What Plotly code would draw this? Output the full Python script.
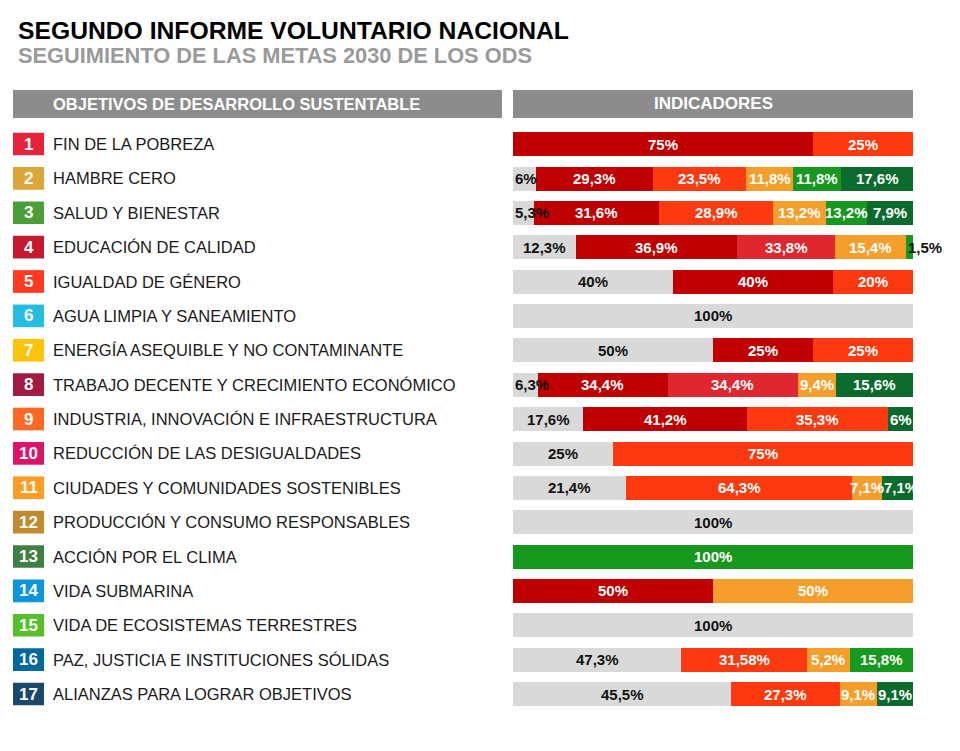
import plotly.graph_objects as go

# ---------------- data ----------------
goal_numbers = list(range(1, 18))
goal_names = [
    "FIN DE LA POBREZA",
    "HAMBRE CERO",
    "SALUD Y BIENESTAR",
    "EDUCACIÓN DE CALIDAD",
    "IGUALDAD DE GÉNERO",
    "AGUA LIMPIA Y SANEAMIENTO",
    "ENERGÍA ASEQUIBLE Y NO CONTAMINANTE",
    "TRABAJO DECENTE Y CRECIMIENTO ECONÓMICO",
    "INDUSTRIA, INNOVACIÓN E INFRAESTRUCTURA",
    "REDUCCIÓN DE LAS DESIGUALDADES",
    "CIUDADES Y COMUNIDADES SOSTENIBLES",
    "PRODUCCIÓN Y CONSUMO RESPONSABLES",
    "ACCIÓN POR EL CLIMA",
    "VIDA SUBMARINA",
    "VIDA DE ECOSISTEMAS TERRESTRES",
    "PAZ, JUSTICIA E INSTITUCIONES SÓLIDAS",
    "ALIANZAS PARA LOGRAR OBJETIVOS",
]
goal_colors = [
    "#E5243B", "#DDA63A", "#4C9F38", "#C5192D", "#FF3A21", "#26BDE2",
    "#FCC30B", "#A21942", "#FD6925", "#DD1367", "#FD9D24", "#BF8B2E",
    "#3F7E44", "#0A97D9", "#56C02B", "#00689D", "#19486A",
]

# indicator status categories (segment widths as drawn, % of bar)
status_names = ["gris", "rojo oscuro", "rojo", "rojo anaranjado", "naranja", "verde", "verde oscuro"]
status_colors = ["#D9D9D9", "#C00000", "#E0262F", "#FD3A0F", "#F59E2C", "#17981F", "#0A6B2D"]

gris            = [0, 5.8, 5.3, 15.8, 40, 100, 50, 6.2, 17.5, 25, 28.2, 100, 0, 0, 100, 42.0, 54.5]
rojo_oscuro     = [75, 29.2, 31.3, 40.2, 40, 0, 25, 32.5, 41.0, 0, 0, 0, 0, 50, 0, 0, 0]
rojo            = [0, 0, 0, 24.5, 0, 0, 0, 32.5, 0, 0, 0, 0, 0, 0, 0, 0, 0]
rojo_anaranjado = [25, 23.3, 28.5, 0, 20, 0, 25, 0, 35.2, 75, 56.6, 0, 0, 0, 0, 31.5, 27.2]
naranja         = [0, 11.8, 13.1, 17.7, 0, 0, 0, 9.6, 0, 0, 7.4, 0, 0, 50, 0, 10.7, 9.2]
verde           = [0, 11.9, 10.4, 1.8, 0, 0, 0, 0, 0, 0, 0, 0, 100, 0, 0, 15.8, 0]
verde_oscuro    = [0, 18.0, 11.4, 0, 0, 0, 0, 19.2, 6.3, 0, 7.8, 0, 0, 0, 0, 0, 9.1]

# labels as printed on the chart
gris_lbl            = ["", "6%", "5,3%", "12,3%", "40%", "100%", "50%", "6,3%", "17,6%", "25%", "21,4%", "100%", "", "", "100%", "47,3%", "45,5%"]
rojo_oscuro_lbl     = ["75%", "29,3%", "31,6%", "36,9%", "40%", "", "25%", "34,4%", "41,2%", "", "", "", "", "50%", "", "", ""]
rojo_lbl            = ["", "", "", "33,8%", "", "", "", "34,4%", "", "", "", "", "", "", "", "", ""]
rojo_anaranjado_lbl = ["25%", "23,5%", "28,9%", "", "20%", "", "25%", "", "35,3%", "75%", "64,3%", "", "", "", "", "31,58%", "27,3%"]
naranja_lbl         = ["", "11,8%", "13,2%", "15,4%", "", "", "", "9,4%", "", "", "7,1%", "", "", "50%", "", "5,2%", "9,1%"]
verde_lbl           = ["", "11,8%", "13,2%", "1,5%", "", "", "", "", "", "", "", "", "100%", "", "", "15,8%", ""]
verde_oscuro_lbl    = ["", "17,6%", "7,9%", "", "", "", "", "15,6%", "6%", "", "7,1%", "", "", "", "", "", "9,1%"]

title = "SEGUNDO INFORME VOLUNTARIO NACIONAL"
subtitle = "SEGUIMIENTO DE LAS METAS 2030 DE LOS ODS"
header_left = "OBJETIVOS DE DESARROLLO SUSTENTABLE"
header_right = "INDICADORES"

series = [gris, rojo_oscuro, rojo, rojo_anaranjado, naranja, verde, verde_oscuro]
series_lbl = [gris_lbl, rojo_oscuro_lbl, rojo_lbl, rojo_anaranjado_lbl, naranja_lbl, verde_lbl, verde_oscuro_lbl]

# ---------------- layout constants ----------------
OFF = 8  # page body margin
W, H = 960 - OFF, 751 - OFF
FONT = "Liberation Sans, Arial, sans-serif"

def px_x(p):
    return (p - OFF) / W

def px_y(p):
    return 1 - (p - OFF) / H

row_top_px, row_step = 144, 34.375
y_top = row_top_px - row_step / 2
y_bot = row_top_px + 16 * row_step + row_step / 2

fig = go.Figure()
for name, col, vals in zip(status_names, status_colors, series):
    fig.add_trace(go.Bar(
        y=goal_numbers, x=vals, orientation="h", name=name,
        marker=dict(color=col, line=dict(width=0)), width=0.7,
        hoverinfo="x+name", showlegend=False,
    ))

annotations = []
shapes = []

# segment labels: centered, small end segments anchored at their inner edge
for r in range(17):
    cum = 0.0
    total = sum(s[r] for s in series)
    for k, (vals, lbls) in enumerate(zip(series, series_lbl)):
        v = vals[r]
        if v > 0 and lbls[r]:
            x, anchor = cum + v / 2, "center"
            if v < 9 and cum == 0:
                x, anchor = 0, "left"
            elif v < 9 and abs(cum + v - total) < 1e-6:
                x, anchor = cum, "left"
            dark = (k == 0) or v < 3
            annotations.append(dict(
                x=x, y=goal_numbers[r], xref="x", yref="y", text=f"<b>{lbls[r]}</b>",
                showarrow=False, xanchor=anchor, yanchor="middle",
                font=dict(family=FONT, size=15, color="#111111" if dark else "#FFFFFF"),
            ))
        cum += v

# left column: goal squares and names
for n, name, col in zip(goal_numbers, goal_names, goal_colors):
    shapes.append(dict(type="rect", xref="paper", yref="y",
                       x0=px_x(13), x1=px_x(44), y0=n - 0.33, y1=n + 0.33,
                       fillcolor=col, line=dict(width=0), layer="below"))
    annotations.append(dict(x=px_x(28.5), y=n, xref="paper", yref="y", text=f"<b>{n}</b>",
                            showarrow=False, xanchor="center", yanchor="middle",
                            font=dict(family=FONT, size=17, color="#FFFFFF")))
    annotations.append(dict(x=px_x(51), y=n, xref="paper", yref="y", text=name,
                            showarrow=False, xanchor="left", yanchor="middle",
                            font=dict(family=FONT, size=16.5, color="#1a1a1a")))

# header boxes
shapes.append(dict(type="rect", xref="paper", yref="paper",
                   x0=px_x(13), x1=px_x(502), y0=px_y(118), y1=px_y(90),
                   fillcolor="#8C8C8C", line=dict(width=0)))
shapes.append(dict(type="rect", xref="paper", yref="paper",
                   x0=px_x(513), x1=px_x(913), y0=px_y(118), y1=px_y(90),
                   fillcolor="#8C8C8C", line=dict(width=0)))
annotations.append(dict(x=px_x(51), y=px_y(104), xref="paper", yref="paper",
                        text=f"<b>{header_left}</b>", showarrow=False,
                        xanchor="left", yanchor="middle",
                        font=dict(family=FONT, size=16.5, color="#FFFFFF")))
annotations.append(dict(x=px_x(713), y=px_y(104), xref="paper", yref="paper",
                        text=f"<b>{header_right}</b>", showarrow=False,
                        xanchor="center", yanchor="middle",
                        font=dict(family=FONT, size=17, color="#FFFFFF")))

# titles
annotations.append(dict(x=px_x(16), y=px_y(31), xref="paper", yref="paper",
                        text=f"<b>{title}</b>", showarrow=False,
                        xanchor="left", yanchor="middle",
                        font=dict(family=FONT, size=24.7, color="#000000")))
annotations.append(dict(x=px_x(16), y=px_y(56), xref="paper", yref="paper",
                        text=f"<b>{subtitle}</b>", showarrow=False,
                        xanchor="left", yanchor="middle",
                        font=dict(family=FONT, size=21.8, color="#9A9A9A")))

fig.update_layout(
    width=W, height=H,
    margin=dict(l=0, r=0, t=0, b=0),
    paper_bgcolor="#FFFFFF", plot_bgcolor="#FFFFFF",
    barmode="stack", bargap=0,
    xaxis=dict(domain=[px_x(513), px_x(913)], range=[0, 100], visible=False, fixedrange=True),
    yaxis=dict(domain=[px_y(y_bot), px_y(y_top)], range=[17.5, 0.5], visible=False, fixedrange=True),
    annotations=annotations, shapes=shapes,
)

fig.write_html("out.html")
